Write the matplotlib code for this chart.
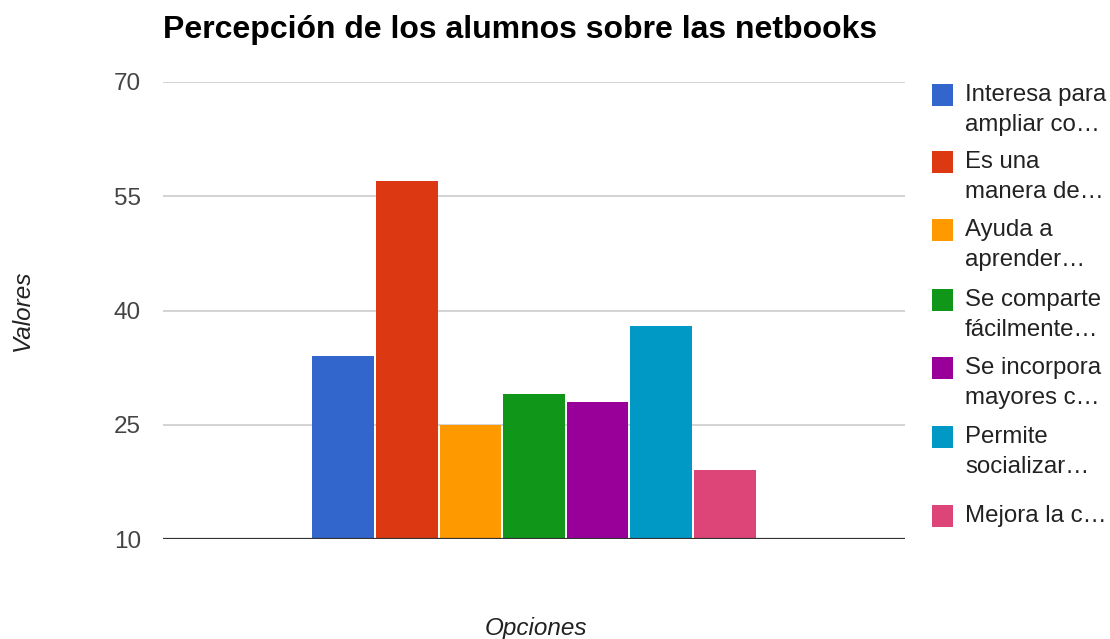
import matplotlib
matplotlib.use("Agg")
import matplotlib.pyplot as plt
from matplotlib.patches import Rectangle

plt.rcParams['font.family'] = ['Liberation Sans', 'DejaVu Sans']

title = "Percepción de los alumnos sobre las netbooks"
series_labels = [
    "Interesa para\nampliar co…",
    "Es una\nmanera de…",
    "Ayuda a\naprender…",
    "Se comparte\nfácilmente…",
    "Se incorpora\nmayores c…",
    "Permite\nsocializar…",
    "Mejora la c…",
]
values = [34, 57, 25, 29, 28, 38, 19]
colors = ["#3366cc", "#dc3912", "#ff9900", "#109618", "#990099", "#0099c6", "#dd4477"]
y_ticks = [10, 25, 40, 55, 70]
x_label = "Opciones"
y_label = "Valores"

W, H = 1110, 639
fig = plt.figure(figsize=(W / 100, H / 100), dpi=100)
ax = fig.add_axes([163 / W, 1 - 539 / H, (905 - 163) / W, (539 - 82) / H])

n = len(values)
group = 0.6
slot = group / n
for i, (v, c) in enumerate(zip(values, colors)):
    x = -group / 2 + slot * (i + 0.5)
    ax.bar(x, v - 10, bottom=10, width=slot * 0.97, color=c, zorder=3, linewidth=0)

ax.set_xlim(-0.5, 0.5)
ax.set_ylim(10, 70)
ax.set_yticks(y_ticks)
ax.set_yticklabels([str(t) for t in y_ticks], fontsize=17.5, color="#444444")
ax.set_xticks([])
for t in y_ticks[1:]:
    ax.axhline(t, color="#cccccc", linewidth=1.2, zorder=1)
ax.axhline(10, color="#333333", linewidth=1.6, zorder=4)
for s in ax.spines.values():
    s.set_visible(False)
ax.tick_params(axis='y', length=0, pad=16)

fig.text(163 / W, 1 - 30 / H, title, fontsize=23, fontweight="bold", color="#000000",
         ha="left", va="center")
fig.text(536 / W, 1 - 629 / H, x_label, fontsize=17.5, style="italic", color="#222222",
         ha="center", va="center")
fig.text(22 / W, 1 - 310 / H, y_label, fontsize=17.5, style="italic", color="#222222",
         ha="center", va="center", rotation=90)

# legend
item_tops = [95, 162, 230, 300, 368, 437, 516]
for lab, c, yc in zip(series_labels, colors, item_tops):
    fig.add_artist(Rectangle((932 / W, 1 - (yc + 11) / H), 21 / W, 22 / H,
                             transform=fig.transFigure, color=c, linewidth=0))
    for k, ln in enumerate(lab.split("\n")):
        fig.text(965 / W, 1 - (yc + 30 * k) / H, ln, fontsize=17.3, color="#222222",
                 ha="left", va="center")

fig.savefig("out.png", dpi=100, facecolor="white")
